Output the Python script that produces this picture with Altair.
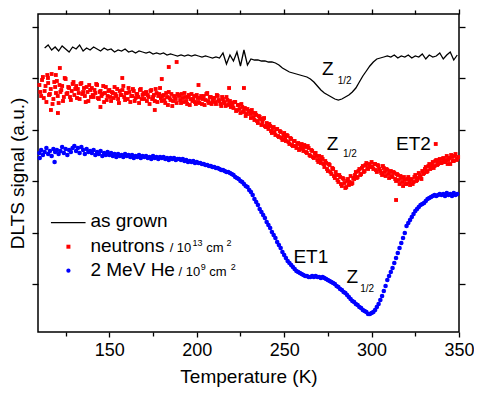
import altair as alt
import pandas as pd

FONT = "Liberation Sans"

# ---------------- data ----------------
# as grown (black line), temperature grid in K
grown_temp = list(range(113, 350, 2))
grown_signal = [
    284, 287, 282, 285, 281, 286, 283, 280, 285, 283,
    287, 281, 284, 282, 285, 283, 281, 284, 282, 283,
    280, 282, 281, 283, 280, 281, 279, 281, 280, 279,
    280, 278, 279, 278, 279, 277, 278, 277, 276, 277,
    276, 277, 276, 277, 276, 275, 276, 275, 274, 275,
    274, 279, 268, 277, 271, 280, 266, 282, 267, 273,
    272, 272, 271, 271, 270, 270, 269, 267, 264, 262,
    260, 259, 258, 257, 256, 255, 253, 250, 246, 242,
    239, 237, 235, 233, 232, 233, 235, 237, 240, 244,
    250, 256, 261, 266, 270, 273, 274, 275, 276, 275,
    277, 274, 276, 275, 277, 274, 276, 275, 278, 273,
    277, 275, 276, 279, 273, 277, 280, 272, 277,
]

# neutrons (red squares): two sweeps, whole-K and half-K temperatures
neutron_temp_a = list(range(110, 350))
neutron_signal_a = [
    247, 236, 255, 241, 230, 249, 238, 258, 233, 245,
    251, 229, 240, 246, 235, 253, 239, 244, 232, 248,
    237, 246, 243, 233, 249, 240, 236, 245, 231, 242,
    244, 235, 239, 247, 233, 241, 238, 230, 245, 236,
    242, 231, 239, 245, 236, 233, 241, 237, 246, 232,
    239, 244, 230, 236, 241, 234, 238, 229, 243, 237,
    233, 240, 237, 228, 242, 235, 231, 239, 236, 244,
    231, 237, 229, 235, 240, 232, 226, 236, 233, 238,
    236, 229, 234, 239, 231, 235, 227, 238, 233, 230,
    237, 230, 234, 228, 236, 232, 239, 229, 235, 231,
    234, 228, 236, 231, 226, 233, 229, 235, 227, 231,
    229, 224, 230, 222, 227, 219, 225, 221, 216, 223,
    221, 214, 219, 212, 217, 209, 215, 207, 213, 206,
    209, 203, 206, 199, 205, 197, 203, 195, 200, 192,
    199, 191, 196, 188, 193, 186, 191, 184, 189, 183,
    188, 181, 185, 179, 184, 176, 181, 174, 179, 172,
    176, 169, 173, 165, 169, 161, 167, 158, 163, 154,
    157, 150, 155, 146, 153, 144, 151, 147, 156, 149,
    153, 160, 155, 163, 158, 166, 161, 169, 163, 167,
    170, 163, 168, 160, 166, 161, 157, 164, 156, 162,
    154, 161, 155, 159, 151, 157, 148, 154, 146, 152,
    148, 155, 147, 153, 150, 157, 152, 159, 155, 161,
    159, 165, 161, 168, 164, 170, 166, 172, 168, 173,
    169, 174, 170, 176, 172, 168, 175, 171, 178, 173,
]
neutron_temp_b = [t + 0.5 for t in range(110, 350)]
neutron_signal_b = [
    240, 252, 234, 246, 257, 237, 243, 228, 250, 239,
    236, 247, 242, 231, 254, 238, 245, 235, 241, 250,
    243, 234, 239, 248, 238, 244, 230, 240, 247, 235,
    237, 242, 248, 234, 240, 236, 246, 239, 232, 241,
    235, 240, 234, 238, 243, 229, 237, 242, 235, 239,
    233, 240, 236, 243, 231, 238, 235, 242, 233, 239,
    238, 231, 235, 241, 233, 237, 243, 230, 238, 234,
    236, 232, 239, 227, 234, 238, 231, 235, 229, 237,
    232, 238, 230, 235, 228, 237, 233, 231, 236, 228,
    234, 229, 236, 233, 227, 238, 231, 235, 228, 234,
    230, 237, 232, 228, 235, 230, 226, 232, 228, 225,
    226, 230, 221, 227, 223, 228, 220, 224, 218, 221,
    218, 222, 215, 219, 211, 216, 213, 210, 214, 205,
    205, 208, 201, 204, 200, 203, 196, 201, 194, 197,
    194, 197, 190, 194, 187, 191, 186, 188, 182, 186,
    184, 187, 180, 186, 177, 182, 175, 179, 176, 170,
    172, 175, 168, 171, 163, 168, 160, 164, 156, 160,
    152, 157, 148, 154, 149, 145, 153, 150, 148, 154,
    157, 154, 161, 157, 164, 160, 167, 164, 168, 165,
    165, 168, 162, 167, 163, 159, 166, 160, 163, 158,
    160, 156, 160, 153, 158, 152, 156, 150, 155, 148,
    153, 150, 152, 148, 155, 151, 154, 157, 153, 158,
    163, 160, 166, 163, 167, 164, 171, 167, 170, 169,
    173, 170, 172, 168, 174, 177, 171, 176, 172, 175,
]
neutron_temp_extra = [114.9, 119.4, 116.6, 120.6, 121.7, 144.9, 157.4, 176.0,
                      180.0, 184.0, 188.5, 201.0, 218.5, 227.0, 336.7, 314.0]
neutron_signal_extra = [254, 257, 222, 219, 264, 225, 254, 222,
                        253, 265, 270, 247, 244, 244, 188, 132]

# 2 MeV He (blue circles)
he_temp = list(range(110, 350)) + [110.2, 118.7]
he_signal = [
    179, 182, 177, 180, 184, 178, 181, 176, 183, 180,
    182, 178, 181, 185, 179, 183, 177, 182, 180, 184,
    186, 181, 184, 179, 185, 182, 178, 183, 180, 181,
    179, 182, 177, 180, 178, 181, 176, 179, 177, 180,
    177, 179, 176, 178, 175, 178, 176, 177, 175, 178,
    176, 177, 175, 177, 174, 176, 175, 177, 174, 176,
    175, 176, 174, 175, 173, 176, 174, 175, 173, 175,
    174, 175, 173, 174, 172, 174, 173, 174, 172, 173,
    173, 172, 173, 171, 172, 170, 171, 170, 171, 169,
    170, 169, 169, 168, 168, 167, 167, 166, 166, 165,
    165, 164, 164, 163, 162, 162, 161, 160, 160, 159,
    158, 157, 155, 154, 153, 151, 150, 148, 146, 145,
    142, 140, 137, 133, 130, 127, 123, 120, 117, 114,
    110, 107, 104, 100, 97, 94, 90, 87, 84, 80,
    77, 74, 71, 69, 67, 65, 63, 61, 60, 59,
    58, 57, 56, 56, 55, 55, 56, 55, 56, 55,
    55, 54, 55, 54, 53, 52, 51, 50, 49, 48,
    46, 45, 43, 42, 40, 39, 37, 35, 33, 31,
    30, 28, 27, 25, 24, 22, 21, 20, 18, 18,
    19, 20, 22, 25, 28, 32, 36, 41, 46, 52,
    56, 60, 64, 69, 74, 79, 84, 89, 94, 99,
    106, 109, 112, 115, 118, 121, 123, 125, 127, 128,
    129, 131, 133, 134, 135, 136, 137, 136, 137, 138,
    137, 138, 136, 139, 137, 138, 136, 139, 137, 138,
] + [174, 170]

# axis ticks
x_major = [150, 200, 250, 300, 350]
x_minor = [125, 175, 225, 275, 325]
y_ticks = [48, 99.4, 150.8, 202.2, 253.6, 305]

# annotations: text, temperature, signal, font size
ann_text = ["Z", "1/2", "Z", "1/2", "ET2", "ET1", "Z", "1/2",
            "as grown", "neutrons", "2 MeV He",
            "/ 10", "13", "cm", "2",
            "/ 10", "9", "cm", "2"]
ann_t = [271.6, 280.6, 274.4, 283.6, 314.0, 255.3, 285.7, 293.5,
         139.2, 139.2, 139.2,
         184.5, 197.6, 205.5, 217.0,
         189.6, 202.3, 207.2, 219.5]
ann_v = [257, 248, 182, 175, 182, 69, 49, 40.5,
         105, 80, 56,
         80, 86, 80, 86,
         56, 62, 56, 62]
ann_size = [19, 10, 19, 10, 19, 19, 19, 10,
            19, 19, 19,
            13, 9, 13, 9,
            13, 9, 13, 9]

# legend samples
leg_line_t = [116.6, 136.4]
leg_line_v = [109.3, 109.3]
leg_red_t, leg_red_v = [126.6], [85.3]
leg_blue_t, leg_blue_v = [126.6], [61.3]

# ---------------- chart ----------------
xs = alt.Scale(domain=[109.2, 350], nice=False, zero=False)
ys = alt.Scale(domain=[0, 318], nice=False, zero=False)

tick_common = dict(domain=False, grid=False, tickColor="black", tickWidth=1.3)

ax_bottom = alt.Axis(values=x_major, orient="bottom", tickSize=5, labelFontSize=18,
                     labelFont=FONT, labelColor="black", labelPadding=4, labelFlush=False,
                     labelOverlap=False, format="d", title="Temperature (K)",
                     titleFont=FONT, titleFontSize=19, titleFontWeight="normal",
                     titleColor="black", titlePadding=8, **tick_common)
ax_bottom_minor = alt.Axis(values=x_minor, orient="bottom", tickSize=4, labels=False,
                           title=None, **tick_common)
ax_top = alt.Axis(values=x_major, orient="top", tickSize=5, labels=False, title=None,
                  **tick_common)
ax_top_minor = alt.Axis(values=x_minor, orient="top", tickSize=4, labels=False,
                        title=None, **tick_common)
ax_left = alt.Axis(values=y_ticks, orient="left", tickSize=6, labels=False,
                   title="DLTS signal (a.u.)", titleFont=FONT, titleFontSize=19,
                   titleFontWeight="normal", titleColor="black", titlePadding=4,
                   **tick_common)
ax_right = alt.Axis(values=y_ticks, orient="right", tickSize=6, labels=False,
                    title=None, **tick_common)

grown_df = pd.DataFrame({"t": grown_temp, "v": grown_signal})
neutron_df = pd.DataFrame({
    "t": neutron_temp_a + neutron_temp_b + neutron_temp_extra,
    "v": neutron_signal_a + neutron_signal_b + neutron_signal_extra,
})
he_df = pd.DataFrame({"t": he_temp, "v": he_signal})
ann_df = pd.DataFrame({"t": ann_t, "v": ann_v, "label": ann_text, "fs": ann_size})

grown = alt.Chart(grown_df).mark_line(color="black", strokeWidth=1.3).encode(
    x=alt.X("t:Q", scale=xs, axis=ax_bottom),
    y=alt.Y("v:Q", scale=ys, axis=ax_left),
)
neutrons = alt.Chart(neutron_df).mark_square(color="#ff0000", size=15, opacity=1).encode(
    x=alt.X("t:Q", scale=xs, axis=ax_top),
    y=alt.Y("v:Q", scale=ys, axis=ax_right),
)
he = alt.Chart(he_df).mark_circle(color="#0000ff", size=21, opacity=1).encode(
    x=alt.X("t:Q", scale=xs, axis=ax_bottom_minor),
    y=alt.Y("v:Q", scale=ys, axis=None),
)
texts = alt.Chart(ann_df).mark_text(align="left", baseline="alphabetic", font=FONT,
                                     color="black").encode(
    x=alt.X("t:Q", scale=xs, axis=ax_top_minor),
    y=alt.Y("v:Q", scale=ys, axis=None),
    text="label:N",
    size=alt.Size("fs:Q", scale=None),
)
leg_line = alt.Chart(pd.DataFrame({"t": leg_line_t, "v": leg_line_v})).mark_line(
    color="black", strokeWidth=1.3).encode(
    x=alt.X("t:Q", scale=xs, axis=None), y=alt.Y("v:Q", scale=ys, axis=None))
leg_red = alt.Chart(pd.DataFrame({"t": leg_red_t, "v": leg_red_v})).mark_square(
    color="#ff0000", size=16, opacity=1).encode(
    x=alt.X("t:Q", scale=xs, axis=None), y=alt.Y("v:Q", scale=ys, axis=None))
leg_blue = alt.Chart(pd.DataFrame({"t": leg_blue_t, "v": leg_blue_v})).mark_circle(
    color="#0000ff", size=18, opacity=1).encode(
    x=alt.X("t:Q", scale=xs, axis=None), y=alt.Y("v:Q", scale=ys, axis=None))

chart = alt.layer(grown, neutrons, he, texts, leg_line, leg_red, leg_blue).resolve_axis(
    x="independent", y="independent"
).properties(
    width=421, height=318,
    padding={"left": 30, "top": 6, "right": 15, "bottom": 58},
    autosize=alt.AutoSizeParams(type="none"),
    background="white",
).configure_view(stroke="black", strokeWidth=1.5)

chart.save("out.html", embed_options={"renderer": "svg", "actions": False})
